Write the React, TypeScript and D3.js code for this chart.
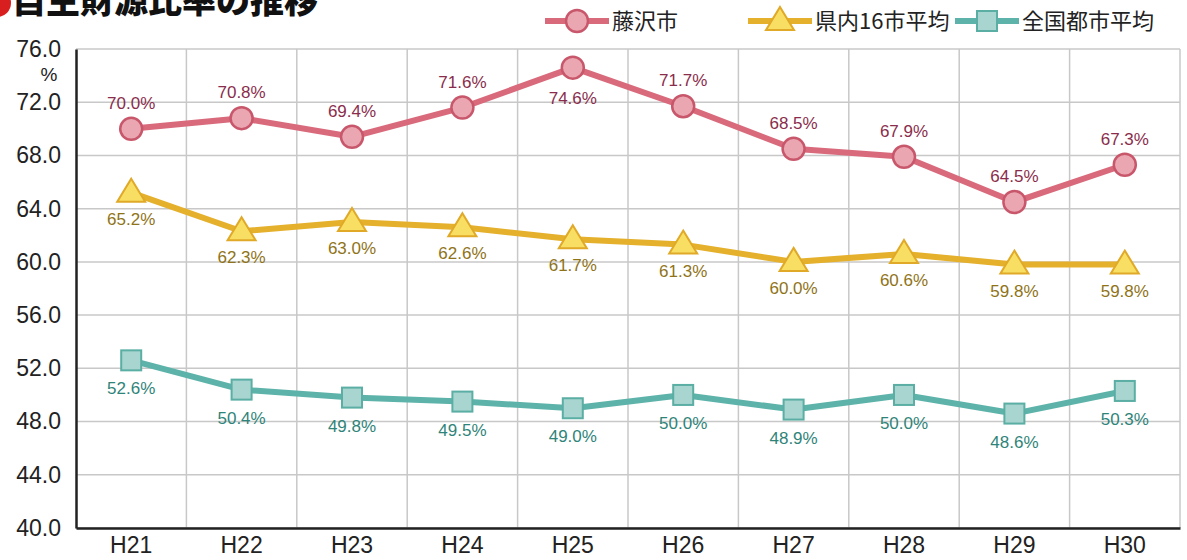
import React, { useEffect, useRef } from 'react';
import * as d3 from 'd3';

const years = ['H21', 'H22', 'H23', 'H24', 'H25', 'H26', 'H27', 'H28', 'H29', 'H30'];
const fujisawa = [70.0, 70.8, 69.4, 71.6, 74.6, 71.7, 68.5, 67.9, 64.5, 67.3];
const prefAvg = [65.2, 62.3, 63.0, 62.6, 61.7, 61.3, 60.0, 60.6, 59.8, 59.8];
const nationAvg = [52.6, 50.4, 49.8, 49.5, 49.0, 50.0, 48.9, 50.0, 48.6, 50.3];
const seriesNames = ['藤沢市', '県内16市平均', '全国都市平均'];
const yTicks = [40, 44, 48, 52, 56, 60, 64, 68, 72, 76];

const W = 1187, H = 560;
const FONT = '"Noto Sans CJK JP", "Noto Sans", sans-serif';
const NUM_FONT = '"Liberation Sans", Arial, sans-serif';

const App = () => {
  const ref = useRef<SVGSVGElement>(null);

  useEffect(() => {
    document.body.style.margin = '0';
    const svg = d3.select(ref.current);
    svg.selectAll('*').remove();

    const left = 76, right = 1180, top = 49, bottom = 528;
    const x = d3.scaleBand().domain(years).range([left, right]);
    const y = d3.scaleLinear().domain([40, 76]).range([bottom, top]);
    const cx = (d: string) => (x(d) as number) + x.bandwidth() / 2;

    // grid
    const grid = svg.append('g').attr('stroke', '#c8c8c8').attr('stroke-width', 1.5);
    yTicks.forEach(t => {
      grid.append('line').attr('x1', left).attr('x2', right).attr('y1', y(t)).attr('y2', y(t));
    });
    years.forEach(yr => {
      const xx = (x(yr) as number) + x.bandwidth();
      grid.append('line').attr('x1', xx).attr('x2', xx).attr('y1', top).attr('y2', bottom);
    });

    // axes
    const yAxis = svg.append('g')
      .attr('transform', `translate(${left},0)`)
      .call(d3.axisLeft(y).tickValues(yTicks).tickSize(0).tickPadding(15).tickFormat(d3.format('.1f')));
    yAxis.select('.domain').attr('stroke', '#222').attr('stroke-width', 2.5);
    yAxis.selectAll('text').attr('font-size', 23).attr('font-family', NUM_FONT).attr('fill', '#222');

    const xAxis = svg.append('g')
      .attr('transform', `translate(0,${bottom})`)
      .call(d3.axisBottom(x).tickSize(0).tickPadding(9));
    xAxis.select('.domain').attr('stroke', '#222').attr('stroke-width', 2.5);
    xAxis.selectAll('text').attr('font-size', 23).attr('font-family', NUM_FONT).attr('fill', '#222');

    svg.append('text').attr('x', 49).attr('y', 81).attr('text-anchor', 'middle')
      .attr('font-size', 19).attr('font-family', NUM_FONT).attr('fill', '#222').text('%');

    const series = [
      { vals: fujisawa, line: '#d96a7c', fill: '#eaa7b1', stroke: '#c9576b', label: '#8a2d4c', shape: 'circle', dy: -20, below: [4] },
      { vals: prefAvg, line: '#e5b02c', fill: '#f8de62', stroke: '#e0a928', label: '#8f7318', shape: 'triangle', dy: 32, below: [] as number[] },
      { vals: nationAvg, line: '#5db3a9', fill: '#a8d5cf', stroke: '#5aaea4', label: '#2f8479', shape: 'square', dy: 34, below: [] as number[] },
    ];

    const drawMarker = (g: any, shape: string, px: number, py: number, s: any) => {
      if (shape === 'circle') {
        g.append('circle').attr('cx', px).attr('cy', py).attr('r', 11)
          .attr('fill', s.fill).attr('stroke', s.stroke).attr('stroke-width', 2.5);
      } else if (shape === 'triangle') {
        g.append('path').attr('transform', `translate(${px},${py})`)
          .attr('d', 'M0,-14 L14,9 L-14,9 Z')
          .attr('fill', s.fill).attr('stroke', s.stroke).attr('stroke-width', 2);
      } else {
        g.append('rect').attr('x', px - 10).attr('y', py - 10).attr('width', 20).attr('height', 20)
          .attr('fill', s.fill).attr('stroke', s.stroke).attr('stroke-width', 2);
      }
    };

    const line = d3.line<number>().x((_, i) => cx(years[i])).y(d => y(d));
    series.forEach(s => {
      svg.append('path').datum(s.vals).attr('d', line).attr('fill', 'none')
        .attr('stroke', s.line).attr('stroke-width', 6).attr('stroke-linejoin', 'round');
      const g = svg.append('g');
      s.vals.forEach((v, i) => {
        drawMarker(g, s.shape, cx(years[i]), y(v), s);
        const dy = s.below.includes(i) ? 36 : s.dy;
        g.append('text').attr('x', cx(years[i])).attr('y', y(v) + dy)
          .attr('text-anchor', 'middle').attr('font-size', 17).attr('font-family', NUM_FONT)
          .attr('fill', s.label).text(v.toFixed(1) + '%');
      });
    });

    // title (cropped at the top, as in the source)
    svg.append('circle').attr('cx', -3).attr('cy', 3).attr('r', 14).attr('fill', '#d81e1e');
    svg.append('text').attr('x', 12).attr('y', 13).attr('font-size', 34).attr('font-weight', 900)
      .attr('font-family', FONT).attr('fill', '#111').text('自主財源比率の推移');

    // legend
    const legendX = [545, 748, 955];
    series.forEach((s, i) => {
      const lx = legendX[i];
      const ly = 21;
      svg.append('line').attr('x1', lx).attr('x2', lx + 64).attr('y1', ly).attr('y2', ly)
        .attr('stroke', s.line).attr('stroke-width', 6);
      drawMarker(svg, s.shape, lx + 32, ly, s);
      svg.append('text').attr('x', lx + 67).attr('y', ly + 8).attr('font-size', 22)
        .attr('font-family', FONT).attr('fill', '#222').text(seriesNames[i]);
    });
  }, []);

  return <svg ref={ref} width={W} height={H} style={{ display: 'block', background: '#fff' }} />;
};

export default App;
